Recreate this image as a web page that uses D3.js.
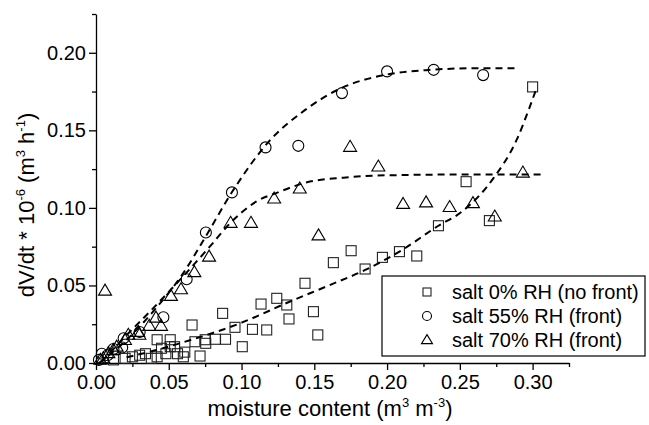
<!DOCTYPE html>
<html><head><meta charset="utf-8">
<script src="https://cdn.jsdelivr.net/npm/d3@7"></script>
<style>body{margin:0;background:#fff}svg{display:block}text{font-family:"Liberation Sans",Arial,sans-serif;fill:#000}</style>
</head><body><svg id="c" width="649" height="425"></svg>
<script>
// ---- data ----
const sq0X=[0.012,0.020,0.025,0.030,0.034,0.038,0.042,0.042,0.045,0.048,0.051,0.051,0.054,0.056,0.060,0.061,0.066,0.068,0.0715,0.075,0.0754,0.082,0.087,0.089,0.0955,0.1005,0.1075,0.1134,0.1173,0.1242,0.1311,0.1326,0.1436,0.1494,0.1524,0.1631,0.1753,0.1849,0.1968,0.2085,0.2204,0.2353,0.2543,0.2703,0.300];
const sq0Y=[0.002,0.003,0.004,0.005,0.006,0.003,0.004,0.015,0.0095,0.006,0.015,0.0105,0.0105,0.006,0.004,0.007,0.0245,0.0137,0.0045,0.015,0.0127,0.0153,0.032,0.0153,0.023,0.0105,0.0217,0.038,0.0213,0.0417,0.0374,0.0284,0.0514,0.0331,0.0181,0.0647,0.0724,0.0606,0.0681,0.0718,0.069,0.0885,0.1169,0.0918,0.178];
const c55X=[0.002,0.004,0.008,0.012,0.018,0.019,0.030,0.0463,0.0623,0.0755,0.0934,0.1165,0.139,0.169,0.200,0.232,0.266];
const c55Y=[0.002,0.006,0.005,0.009,0.010,0.016,0.020,0.0295,0.054,0.0841,0.110,0.139,0.140,0.174,0.188,0.189,0.1856];
const t70X=[0.003,0.005,0.0085,0.0119,0.0142,0.0199,0.0222,0.029,0.0298,0.0366,0.0412,0.0447,0.0515,0.0584,0.0062,0.0676,0.0777,0.0925,0.1065,0.1224,0.140,0.1529,0.1746,0.194,0.211,0.2268,0.243,0.259,0.274,0.2933];
const t70Y=[0.002,0.003,0.0063,0.0084,0.0105,0.0148,0.0181,0.020,0.0181,0.0239,0.0292,0.0239,0.0432,0.0475,0.0466,0.0585,0.0685,0.0903,0.0903,0.106,0.1124,0.0822,0.1393,0.1266,0.1025,0.1035,0.1005,0.103,0.0944,0.1227];
// fitted dashed curves
const fitSqX=[0.021,0.040,0.065,0.099,0.133,0.160,0.185,0.2085,0.2353,0.2513,0.273,0.289,0.298,0.303];
const fitSqY=[0.0037,0.008,0.0148,0.0256,0.0395,0.050,0.060,0.0718,0.0885,0.0975,0.119,0.1438,0.165,0.178];
const fitCX=[0.002,0.020,0.040,0.060,0.075,0.094,0.119,0.1435,0.168,0.200,0.230,0.260,0.289];
const fitCY=[0.000,0.014,0.034,0.058,0.081,0.111,0.143,0.163,0.177,0.186,0.189,0.190,0.190];
const fitTX=[0.004,0.020,0.040,0.060,0.080,0.090,0.100,0.110,0.125,0.145,0.170,0.200,0.250,0.307];
const fitTY=[0.001,0.017,0.036,0.056,0.077,0.088,0.097,0.104,0.110,0.1165,0.1195,0.121,0.1215,0.1215];
const xMajor=[0,0.05,0.10,0.15,0.20,0.25,0.30];
const xMinor=[0.025,0.075,0.125,0.175,0.225,0.275,0.325];
const yMajor=[0,0.05,0.10,0.15,0.20];
const yMinor=[0.025,0.075,0.125,0.175,0.225];
const legendLabels=["salt 0% RH (no front)","salt 55% RH (front)","salt 70% RH (front)"];

const svg=d3.select("#c");
const x=d3.scaleLinear([0,0.325],[96,569]);
const y=d3.scaleLinear([0,0.225],[363,14]);
const FS=20, TS=22;

// axes
const gx=svg.append("g").attr("transform","translate(0,363)");
gx.call(d3.axisBottom(x).tickValues(xMajor).tickFormat(d3.format(".2f")).tickSize(7).tickSizeOuter(0));
gx.append("g").call(d3.axisBottom(x).tickValues(xMinor).tickFormat("").tickSize(4).tickSizeOuter(0)).select(".domain").remove();
const gy=svg.append("g").attr("transform","translate(96,0)");
gy.call(d3.axisLeft(y).tickValues(yMajor).tickFormat(d3.format(".2f")).tickSize(7).tickSizeOuter(0));
gy.append("g").call(d3.axisLeft(y).tickValues(yMinor).tickFormat("").tickSize(4).tickSizeOuter(0)).select(".domain").remove();
svg.selectAll(".tick line,.domain").attr("stroke","#000").attr("stroke-width",1.3);
gx.selectAll(".tick text").attr("font-size",FS).attr("font-family","Liberation Sans, Arial").attr("dy","0.85em").attr("y",9);
gy.selectAll(".tick text").attr("font-size",FS).attr("font-family","Liberation Sans, Arial").attr("x",-10);

// axis titles
const xt=svg.append("text").attr("x",330).attr("y",416).attr("text-anchor","middle").attr("font-size",TS);
xt.append("tspan").text("moisture content (m");
xt.append("tspan").attr("font-size",13).attr("dy",-9).text("3");
xt.append("tspan").attr("dy",9).text(" m");
xt.append("tspan").attr("font-size",13).attr("dy",-9).text("-3");
xt.append("tspan").attr("dy",9).text(")");
const yt=svg.append("text").attr("transform","translate(34,205) rotate(-90)").attr("text-anchor","middle").attr("font-size",TS);
yt.append("tspan").text("dV/dt * 10");
yt.append("tspan").attr("font-size",13).attr("dy",-9).text("-6");
yt.append("tspan").attr("dy",9).text(" (m");
yt.append("tspan").attr("font-size",13).attr("dy",-9).text("3");
yt.append("tspan").attr("dy",9).text(" h");
yt.append("tspan").attr("font-size",13).attr("dy",-9).text("-1");
yt.append("tspan").attr("dy",9).text(")");

// markers
const sqS=10, cR=5.5, triW=13, triH=11;
function sq(g,cx,cy,s){g.append("rect").attr("x",cx-s/2).attr("y",cy-s/2).attr("width",s).attr("height",s).attr("fill","none").attr("stroke","#222").attr("stroke-width",1.1);}
function ci(g,cx,cy,r){g.append("circle").attr("cx",cx).attr("cy",cy).attr("r",r).attr("fill","none").attr("stroke","#000").attr("stroke-width",1.1);}
function tr(g,cx,cy,w,h){g.append("path").attr("d",`M${cx},${cy-h*0.6}L${cx+w/2},${cy+h*0.4}L${cx-w/2},${cy+h*0.4}Z`).attr("fill","none").attr("stroke","#000").attr("stroke-width",1.1);}
const gm=svg.append("g");
sq0X.forEach((v,i)=>sq(gm,x(v),y(sq0Y[i]),sqS));
c55X.forEach((v,i)=>ci(gm,x(v),y(c55Y[i]),cR));
t70X.forEach((v,i)=>tr(gm,x(v),y(t70Y[i]),triW,triH));

// fit curves
const line=d3.line().x(d=>x(d[0])).y(d=>y(d[1])).curve(d3.curveMonotoneX);
[[fitCX,fitCY],[fitTX,fitTY],[fitSqX,fitSqY]].forEach(([xs,ys])=>{
  svg.append("path").attr("d",line(xs.map((v,i)=>[v,ys[i]]))).attr("fill","none").attr("stroke","#000").attr("stroke-width",2).attr("stroke-dasharray","7,5");
});

// legend
const lg=svg.append("g");
lg.append("rect").attr("x",382).attr("y",276).attr("width",263).attr("height",80).attr("fill","#fff").attr("stroke","#000").attr("stroke-width",1.2);
const rows=[292,316,340];
sq(lg,427,rows[0],8); ci(lg,427,rows[1],4.5); tr(lg,427,rows[2],11,9);
legendLabels.forEach((t,i)=>lg.append("text").attr("x",452).attr("y",rows[i]).attr("dy","0.35em").attr("font-size",FS).text(t));
</script></body></html>
